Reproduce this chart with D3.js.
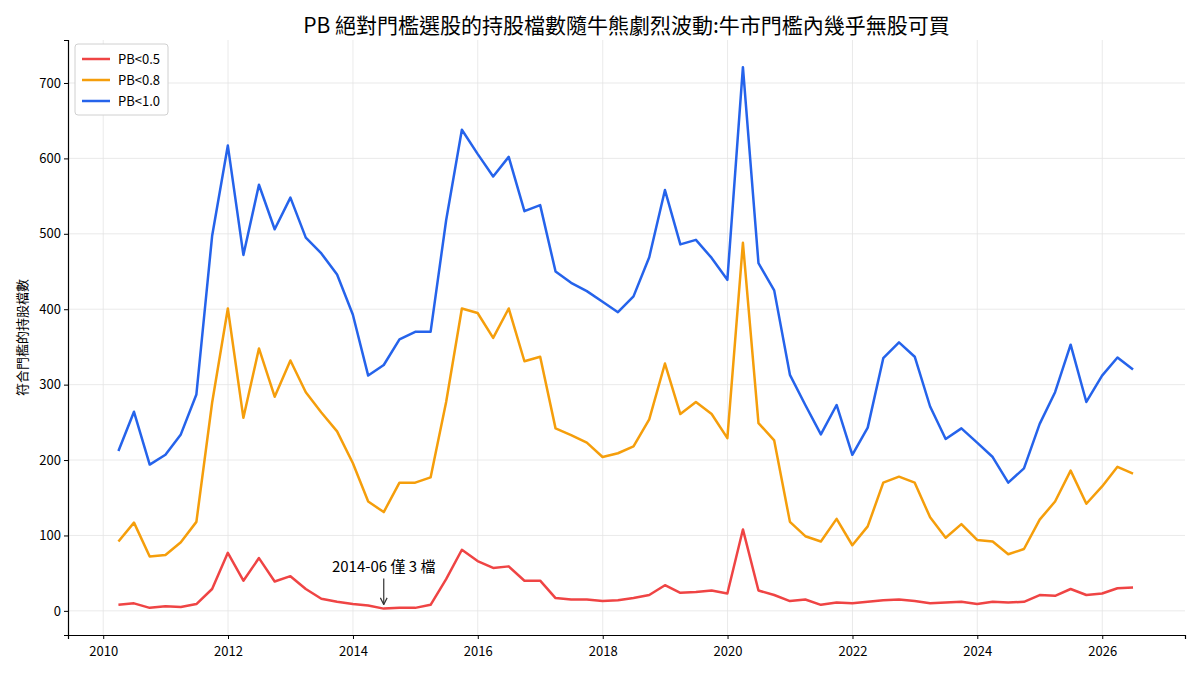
<!DOCTYPE html>
<html>
<head>
<meta charset="utf-8">
<script src="https://cdn.jsdelivr.net/npm/d3@7"></script>
<style>
  body { margin: 0; background: #fff; }
  svg { font-family: "Noto Sans CJK TC", "Noto Sans", sans-serif; }
</style>
</head>
<body>
<script>
// quarter-end dates, 2010Q1 .. 2026Q2
const startYear = 2010, quarterCount = 66;
const quarters = d3.range(quarterCount).map(i => {
  const y = startYear + Math.floor(i / 4), q = i % 4;
  return new Date(y, q * 3 + 3, 0);
});

const pb05 = [8, 10, 4, 6, 5, 9, 29, 77, 40, 70, 39, 46, 29, 16, 12, 9, 7, 3, 4, 4,
  8, 42, 81, 66, 57, 59, 40, 40, 17, 15, 15, 13, 14, 17, 21, 34, 24, 25, 27, 23,
  108, 27, 21, 13, 15, 8, 11, 10, 12, 14, 15, 13, 10, 11, 12, 9, 12, 11, 12, 21,
  20, 29, 21, 23, 30, 31];

const pb08 = [92, 117, 72, 74, 91, 118, 276, 401, 256, 348, 284, 332, 290, 263, 238, 196, 145, 131, 170, 170,
  177, 277, 401, 395, 362, 401, 331, 337, 242, 233, 223, 204, 209, 218, 254, 328, 261, 277, 261, 229,
  488, 249, 226, 118, 99, 92, 122, 87, 112, 170, 178, 170, 124, 97, 115, 94, 92, 75, 82, 121,
  145, 186, 142, 165, 191, 182];

const pb10 = [212, 264, 194, 207, 234, 287, 497, 617, 472, 565, 506, 548, 495, 474, 446, 393, 312, 326, 360, 370,
  370, 518, 638, 606, 576, 602, 530, 538, 450, 435, 424, 410, 396, 417, 469, 558, 486, 492, 468, 439,
  721, 461, 425, 313, 273, 234, 273, 207, 243, 335, 356, 337, 271, 228, 242, 223, 204, 170, 189, 248,
  290, 353, 277, 312, 336, 320];

const seriesNames = ["PB<0.5", "PB<0.8", "PB<1.0"];
const seriesColors = ["#ef4444", "#f59e0b", "#2563eb"];
const yTicks = [0, 100, 200, 300, 400, 500, 600, 700];
const xTickYears = [2010, 2012, 2014, 2016, 2018, 2020, 2022, 2024, 2026];

const W = 1200, H = 675;
const margin = { top: 40, right: 15, bottom: 40, left: 68 };

const svg = d3.select("body").append("svg")
  .attr("width", W)
  .attr("height", H);

const x = d3.scaleTime()
  .domain([new Date(2009, 5, 9), new Date(2027, 3, 30)])
  .range([margin.left, W - margin.right]);

const y = d3.scaleLinear()
  .domain([-32, 757])
  .range([H - margin.bottom, margin.top]);

// grid
const grid = svg.append("g");
grid.selectAll("line.gx")
  .data(xTickYears)
  .enter().append("line")
  .attr("x1", d => x(new Date(d, 0, 1)))
  .attr("x2", d => x(new Date(d, 0, 1)))
  .attr("y1", margin.top)
  .attr("y2", H - margin.bottom)
  .attr("stroke", "#e5e5e5")
  .attr("stroke-width", 0.8);
grid.selectAll("line.gy")
  .data(yTicks)
  .enter().append("line")
  .attr("x1", margin.left)
  .attr("x2", W - margin.right)
  .attr("y1", d => y(d))
  .attr("y2", d => y(d))
  .attr("stroke", "#e5e5e5")
  .attr("stroke-width", 0.8);

// axes
const xAxis = svg.append("g")
  .attr("transform", `translate(0,${H - margin.bottom})`)
  .call(d3.axisBottom(x)
    .tickValues(xTickYears.map(d => new Date(d, 0, 1)))
    .tickFormat(d3.timeFormat("%Y"))
    .tickSizeOuter(0)
    .tickSize(4));

const yAxis = svg.append("g")
  .attr("transform", `translate(${margin.left},0)`)
  .call(d3.axisLeft(y)
    .tickValues(yTicks)
    .tickSizeOuter(0)
    .tickSize(4));

[xAxis, yAxis].forEach(a => {
  a.select(".domain").attr("stroke", "#000").attr("stroke-width", 1.2);
  a.selectAll(".tick line").attr("stroke", "#000");
  a.selectAll(".tick text")
    .attr("fill", "#000")
    .style("font-size", "13px")
    .style("font-family", "'Noto Sans CJK TC', sans-serif");
});
xAxis.selectAll(".tick text").attr("dy", "1.05em");

// lines
const allSeries = [pb05, pb08, pb10];
const line = d3.line()
  .x((d, i) => x(quarters[i]))
  .y(d => y(d));

allSeries.forEach((s, k) => {
  svg.append("path")
    .datum(s)
    .attr("fill", "none")
    .attr("stroke", seriesColors[k])
    .attr("stroke-width", 2.5)
    .attr("stroke-linejoin", "round")
    .attr("d", line);
});

// annotation at the PB<0.5 low
const lowIdx = 17;
const ax = x(quarters[lowIdx]), ay = y(pb05[lowIdx]);
svg.append("defs").append("marker")
  .attr("id", "arrow")
  .attr("viewBox", "0 0 10 10")
  .attr("refX", 9).attr("refY", 5)
  .attr("markerWidth", 7).attr("markerHeight", 7)
  .attr("orient", "auto")
  .append("path")
  .attr("d", "M1,1 L9,5 L1,9")
  .attr("fill", "none")
  .attr("stroke", "#333")
  .attr("stroke-width", 1.4);
svg.append("line")
  .attr("x1", ax).attr("x2", ax)
  .attr("y1", ay - 30).attr("y2", ay - 4)
  .attr("stroke", "#333")
  .attr("stroke-width", 1.2)
  .attr("marker-end", "url(#arrow)");
svg.append("text")
  .attr("x", ax)
  .attr("y", ay - 37)
  .attr("text-anchor", "middle")
  .style("font-size", "15px")
  .text("2014-06 僅 3 檔");

// title & y label
svg.append("text")
  .attr("x", (margin.left + W - margin.right) / 2)
  .attr("y", 33)
  .attr("text-anchor", "middle")
  .style("font-size", "21px")
  .text("PB 絕對門檻選股的持股檔數隨牛熊劇烈波動:牛市門檻內幾乎無股可買");

svg.append("text")
  .attr("transform", `translate(27,${(margin.top + H - margin.bottom) / 2}) rotate(-90)`)
  .attr("text-anchor", "middle")
  .style("font-size", "13px")
  .text("符合門檻的持股檔數");

// legend
const lg = svg.append("g").attr("transform", "translate(75,44)");
lg.append("rect")
  .attr("width", 93).attr("height", 71)
  .attr("rx", 3)
  .attr("fill", "#fff")
  .attr("stroke", "#d0d0d0");
seriesNames.forEach((n, k) => {
  const row = lg.append("g").attr("transform", `translate(0,${15 + k * 21})`);
  row.append("line")
    .attr("x1", 7).attr("x2", 35)
    .attr("stroke", seriesColors[k])
    .attr("stroke-width", 2.5);
  row.append("text")
    .attr("x", 43).attr("y", 5)
    .style("font-size", "13px")
    .text(n);
});
</script>
</body>
</html>
